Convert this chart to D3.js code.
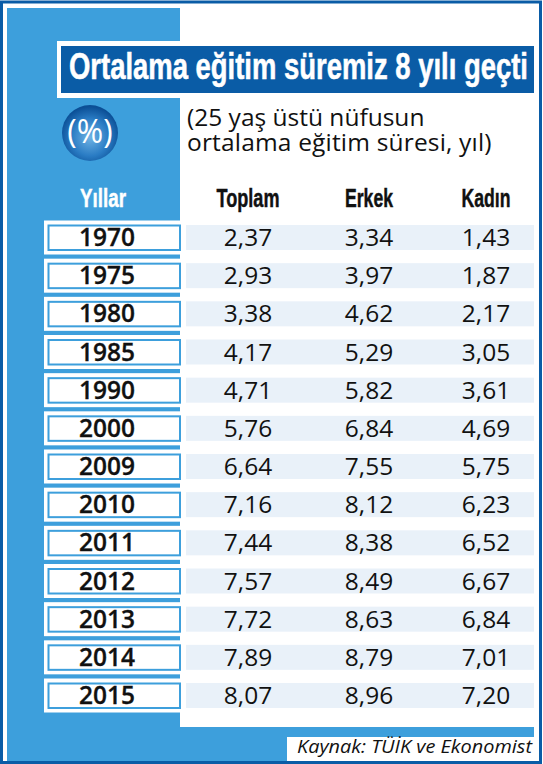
<!DOCTYPE html>
<html><head><meta charset="utf-8">
<script src="https://cdn.jsdelivr.net/npm/d3@7"></script>
<style>html,body{margin:0;padding:0;background:#fff}svg{display:block}</style></head>
<body><svg id="c" width="543" height="764"></svg>
<script>
const titleText = "Ortalama eğitim süremiz 8 yılı geçti";
const subtitleLines = ["(25 yaş üstü nüfusun", "ortalama eğitim süresi, yıl)"];
const sourceText = "Kaynak: TÜİK ve Ekonomist";
const yearHeader = "Yıllar";
const years = ["1970","1975","1980","1985","1990","2000","2009","2010","2011","2012","2013","2014","2015"];
const seriesNames = ["Toplam","Erkek","Kadın"];
const toplam = [2.37,2.93,3.38,4.17,4.71,5.76,6.64,7.16,7.44,7.57,7.72,7.89,8.07];
const erkek  = [3.34,3.97,4.62,5.29,5.82,6.84,7.55,8.12,8.38,8.49,8.63,8.79,8.96];
const kadin  = [1.43,1.87,2.17,3.05,3.61,4.69,5.75,6.23,6.52,6.67,6.84,7.01,7.20];
const series = [toplam, erkek, kadin];

const BLUE="#3d9fdc", DARK="#0a5ca6", BAND="#e9f1f9";
const BODY="'Open Sans','Noto Sans',sans-serif";
const NARROW="'Liberation Sans Narrow','Liberation Sans',sans-serif";
const svg=d3.select("#c");
const fmt=d3.formatLocale({decimal:",",thousands:".",grouping:[3],currency:["",""]}).format(".2f");

const y=d3.scalePoint().domain(years).range([237.5,695.5]);
const colX=d3.scaleOrdinal().domain(seriesNames).range([248,369,486]);
const hw=d3.scaleOrdinal().domain(seriesNames).range([63,48,49]);

// frame
svg.append("rect").attr("x",1.5).attr("y",2).attr("width",539).attr("height",760.5)
  .attr("fill","#fff").attr("stroke",DARK).attr("stroke-width",3);
// blue panel
svg.append("rect").attr("x",7).attr("y",8).attr("width",173).attr("height",753).attr("fill",BLUE);
svg.append("rect").attr("x",180).attr("y",727).attr("width",354).attr("height",34).attr("fill",BLUE);
svg.append("rect").attr("x",287).attr("y",737).attr("width",247).attr("height",24).attr("fill","#fff");

// title
svg.append("rect").attr("x",57).attr("y",41).attr("width",477).attr("height",57).attr("fill","#fff");
svg.append("rect").attr("x",61).attr("y",46).attr("width",473).attr("height",47).attr("fill",DARK);
svg.append("text").attr("transform","translate(69,79) scale(1,1.12)").text(titleText)
  .attr("textLength",459).attr("lengthAdjust","spacingAndGlyphs")
  .attr("font-family",NARROW).attr("font-weight",700).attr("font-size",33)
  .attr("fill","#fff").attr("stroke","#fff").attr("stroke-width",0.5);

// subtitle: one text element with two lines
const subT=svg.append("text").attr("font-family",BODY).attr("font-size",24.5).attr("fill","#111");
subT.selectAll("tspan").data(subtitleLines).join("tspan")
  .attr("x",187).attr("y",(d,i)=>126+i*25).attr("letter-spacing",(d,i)=>i?0.18:0).text(d=>d);

// badge
const grad=svg.append("defs").append("radialGradient").attr("id","g")
  .attr("cx","50%").attr("cy","58%").attr("r","55%");
grad.append("stop").attr("offset","0%").attr("stop-color","#6fb3e4");
grad.append("stop").attr("offset","60%").attr("stop-color","#2a7cc4");
grad.append("stop").attr("offset","100%").attr("stop-color","#0b4f96");
svg.append("circle").attr("cx",90).attr("cy",133).attr("r",28).attr("fill","url(#g)");
svg.append("text").attr("x",90).attr("y",143).attr("text-anchor","middle").text("(%)")
  .attr("font-family",BODY).attr("font-weight",400).attr("font-size",32).attr("fill","#fff");

// headers
svg.append("text").attr("transform","translate(80,207) scale(1,1.12)").text(yearHeader)
  .attr("textLength",46).attr("lengthAdjust","spacingAndGlyphs")
  .attr("font-family",NARROW).attr("font-weight",700).attr("font-size",23)
  .attr("fill","#fff").attr("stroke","#fff").attr("stroke-width",0.4);
svg.selectAll("text.hd").data(seriesNames).join("text").attr("class","hd")
  .attr("transform",d=>`translate(${colX(d)-hw(d)/2},207) scale(1,1.12)`).text(d=>d)
  .attr("textLength",d=>hw(d)).attr("lengthAdjust","spacingAndGlyphs")
  .attr("font-family",NARROW).attr("font-weight",700).attr("font-size",23)
  .attr("fill","#111").attr("stroke","#111").attr("stroke-width",0.4);

// rows
const row=svg.selectAll("g.row").data(years).join("g").attr("class","row")
  .attr("transform",d=>`translate(0,${y(d)})`);
row.append("rect").attr("x",186).attr("y",-12.5).attr("width",348).attr("height",25).attr("fill",BAND);
row.append("rect").attr("x",44).attr("y",-17).attr("width",136).attr("height",34).attr("fill","#fff");
row.append("rect").attr("x",48.5).attr("y",-12).attr("width",131.5).attr("height",24.5)
  .attr("fill","#fff").attr("stroke",BLUE).attr("stroke-width",2);
row.append("text").attr("x",107).attr("y",8.5).attr("text-anchor","middle").text(d=>d)
  .attr("font-family",BODY).attr("font-weight",600).attr("font-size",24.5)
  .attr("fill","#111").attr("stroke","#111").attr("stroke-width",0.3);
seriesNames.forEach((s,k)=>{
  row.append("text").attr("x",colX(s)).attr("y",8.5).attr("text-anchor","middle")
    .text((d,i)=>fmt(series[k][i]))
    .attr("font-family",BODY).attr("font-size",24.5).attr("fill","#111");
});

// source
svg.append("text").attr("x",297).attr("y",753).text(sourceText)
  .attr("textLength",235).attr("lengthAdjust","spacingAndGlyphs")
  .attr("font-family",BODY).attr("font-style","italic").attr("font-size",18.5).attr("fill","#111");
</script></body></html>
